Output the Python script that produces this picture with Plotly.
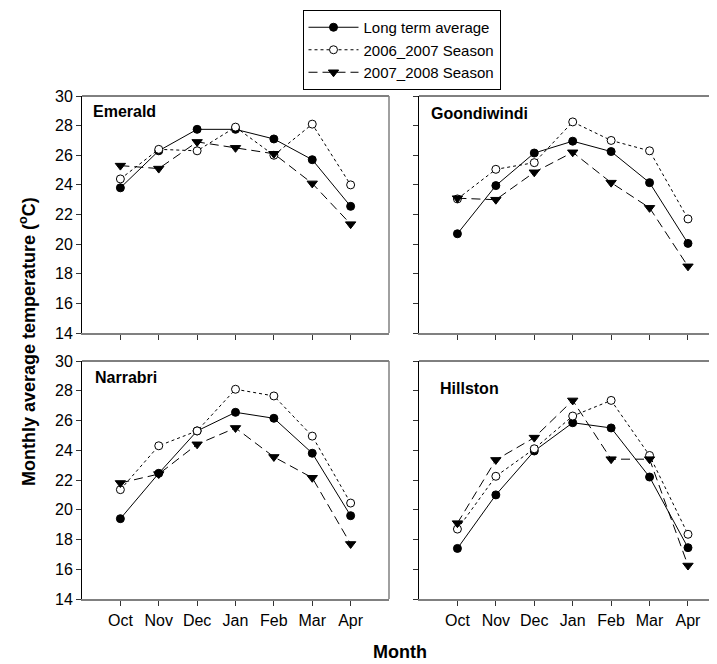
import plotly.graph_objects as go

months = ["Oct", "Nov", "Dec", "Jan", "Feb", "Mar", "Apr"]
series_names = ["Long term average", "2006_2007 Season", "2007_2008 Season"]
y_ticks = [14, 16, 18, 20, 22, 24, 26, 28, 30]

emerald_lta = [23.8, 26.3, 27.75, 27.75, 27.1, 25.7, 22.55]
emerald_0607 = [24.4, 26.4, 26.3, 27.9, 26.0, 28.1, 24.0]
emerald_0708 = [25.3, 25.1, 26.9, 26.5, 26.1, 24.1, 21.35]

goondiwindi_lta = [20.7, 23.95, 26.15, 26.95, 26.25, 24.15, 20.05]
goondiwindi_0607 = [23.05, 25.05, 25.5, 28.25, 27.0, 26.3, 21.7]
goondiwindi_0708 = [23.1, 23.0, 24.85, 26.2, 24.15, 22.45, 18.5]

narrabri_lta = [19.4, 22.45, 25.3, 26.55, 26.15, 23.8, 19.6]
narrabri_0607 = [21.35, 24.3, 25.3, 28.1, 27.65, 24.95, 20.45]
narrabri_0708 = [21.8, 22.4, 24.4, 25.5, 23.55, 22.15, 17.7]

hillston_lta = [17.4, 21.0, 23.95, 25.85, 25.5, 22.2, 17.45]
hillston_0607 = [18.7, 22.25, 24.1, 26.3, 27.35, 23.65, 18.35]
hillston_0708 = [19.1, 23.35, 24.85, 27.35, 23.4, 23.4, 16.25]

sites = ["Emerald", "Goondiwindi", "Narrabri", "Hillston"]
site_data = [
    (emerald_lta, emerald_0607, emerald_0708),
    (goondiwindi_lta, goondiwindi_0607, goondiwindi_0708),
    (narrabri_lta, narrabri_0607, narrabri_0708),
    (hillston_lta, hillston_0607, hillston_0708),
]

FONT = "Liberation Sans, Arial, sans-serif"

styles = [
    dict(line=dict(color="black", width=1, dash="solid"),
         marker=dict(symbol="circle", size=8, color="black", line=dict(color="black", width=1))),
    dict(line=dict(color="black", width=1, dash="dot"),
         marker=dict(symbol="circle", size=8, color="white", line=dict(color="black", width=1))),
    dict(line=dict(color="black", width=1, dash="9px,5px"),
         marker=dict(symbol="triangle-down", size=9, color="black", line=dict(color="black", width=1))),
]

fig = go.Figure()

axis_ids = ["", "2", "3", "4"]
for i, (site, data) in enumerate(zip(sites, site_data)):
    ax = axis_ids[i]
    for j, vals in enumerate(data):
        fig.add_trace(go.Scatter(
            x=months, y=vals, mode="lines+markers", name=series_names[j],
            xaxis="x" + ax, yaxis="y" + ax, showlegend=(i == 0),
            **styles[j]))

# page body has an 8px default margin; figure is sized/offset to compensate
OFF = 8
W, H = 717 - OFF, 664 - OFF
ml, mr, mt, mb = 82 - OFF, 0, 96 - OFF, 65
pw = W - ml - mr
ph = H - mt - mb

def fx(px):
    return (px - OFF - ml) / pw

def fy(py):
    return (H - mb - (py - OFF)) / ph

x_dom_left = [0, fx(389)]
x_dom_right = [fx(419), 1]
y_dom_top = [fy(333), 1]
y_dom_bot = [0, fy(361)]

domains = [
    (x_dom_left, y_dom_top, [-1, 7], True, False),
    (x_dom_right, y_dom_top, [-1, 6.755], False, False),
    (x_dom_left, y_dom_bot, [-1, 7], True, True),
    (x_dom_right, y_dom_bot, [-1, 6.755], False, True),
]

layout = dict(
    width=W, height=H,
    margin=dict(l=ml, r=mr, t=mt, b=mb),
    paper_bgcolor="white", plot_bgcolor="white",
    font=dict(family=FONT, size=16, color="black"),
    showlegend=True,
    legend=dict(
        x=fx(401.5), xanchor="center", y=fy(10), yanchor="top",
        bordercolor="black", borderwidth=1, bgcolor="white",
        font=dict(family=FONT, size=15, color="black"),
        tracegroupgap=0, itemwidth=50,
    ),
)

shapes = []
annotations = []
for i, (xd, yd, xr, ylab, xlab) in enumerate(domains):
    ax = axis_ids[i]
    layout["xaxis" + ax] = dict(
        domain=xd, range=xr, type="category", anchor="y" + ax,
        showgrid=False, zeroline=False,
        showline=True, linecolor="#808080", linewidth=1.5, mirror=False,
        ticks="outside", ticklen=5, tickcolor="#333", tickwidth=1,
        showticklabels=xlab, ticklabelstandoff=1,
        tickfont=dict(family=FONT, size=16, color="black"),
        fixedrange=True,
    )
    layout["yaxis" + ax] = dict(
        domain=yd, range=[14, 30], anchor="x" + ax,
        tickmode="array", tickvals=y_ticks,
        showgrid=False, zeroline=False,
        showline=True, linecolor="black", linewidth=1, mirror=False,
        ticks="outside", ticklen=5, tickcolor="#333", tickwidth=1,
        showticklabels=ylab, ticklabelstandoff=0,
        tickfont=dict(family=FONT, size=16, color="black"),
        fixedrange=True,
    )
    xref = "x" + ax + " domain"
    yref = "y" + ax + " domain"
    shapes.append(dict(type="line", xref=xref, yref=yref, x0=0, x1=1, y0=1, y1=1,
                       line=dict(color="black", width=1)))
    if i in (0, 2):
        shapes.append(dict(type="line", xref=xref, yref=yref, x0=1, x1=1, y0=0, y1=1,
                           line=dict(color="#808080", width=1.5)))

title_pos = [(9, -15), (10, -17), (11, -16), (19, -27)]
for i, site in enumerate(sites):
    ax = axis_ids[i]
    xs, ys = title_pos[i]
    annotations.append(dict(
        text="<b>%s</b>" % site, xref="x" + ax + " domain", yref="y" + ax + " domain",
        x=0, y=1, xanchor="left", yanchor="middle", xshift=xs, yshift=ys,
        showarrow=False, font=dict(family=FONT, size=16, color="black")))

annotations.append(dict(
    text="<b>Month</b>", xref="paper", yref="paper", x=fx(400), y=fy(652),
    xanchor="center", yanchor="middle", showarrow=False,
    font=dict(family=FONT, size=18, color="black")))
annotations.append(dict(
    text="<b>Monthly average temperature (<sup>o</sup>C)</b>", xref="paper", yref="paper",
    x=fx(27), y=fy(342), xanchor="center", yanchor="middle", textangle=-90, showarrow=False,
    font=dict(family=FONT, size=18, color="black")))

layout["shapes"] = shapes
layout["annotations"] = annotations
fig.update_layout(**layout)

fig.write_html("out.html")
